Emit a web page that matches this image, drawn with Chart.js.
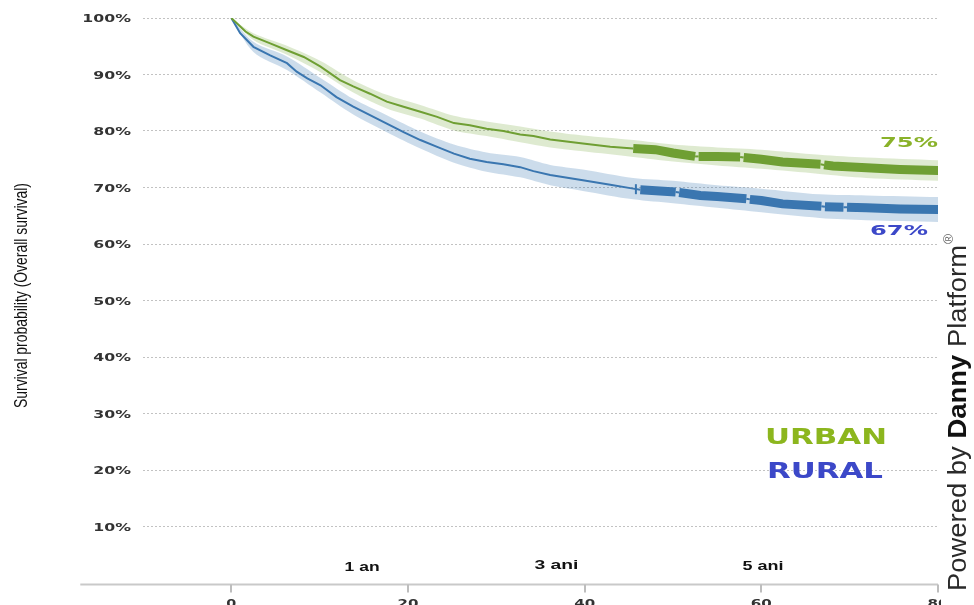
<!DOCTYPE html>
<html>
<head>
<meta charset="utf-8">
<script src="https://cdn.jsdelivr.net/npm/chart.js@4/dist/chart.umd.min.js"></script>
<style>
  html, body { margin: 0; padding: 0; background: #fff; overflow: hidden; }
  canvas { display: block; }
</style>
</head>
<body>
<canvas id="km" width="974" height="620"></canvas>
<script>
// Kaplan–Meier overall survival (%) by residence, months since diagnosis
const urbanMonths   = [0, 1.6, 2.5, 4.4, 6.3, 8.2, 10.1, 11.2, 12.3, 13.8, 15.7, 17.6, 19.5, 21.4, 23.3, 25.2, 27.0, 28.9, 30.8, 32.7, 34.2, 36.1, 39.8, 42.9, 45.5, 48.0, 50.0, 52.5, 52.9, 55.0, 57.6, 58.0, 60.0, 62.4, 66.7, 67.1, 68.1, 71.9, 75.7, 80.2];
const urbanSurvival = [100, 97.6, 96.7, 95.5, 94.3, 93.1, 91.4, 90.2, 89.0, 87.9, 86.6, 85.2, 84.3, 83.4, 82.5, 81.4, 81.0, 80.4, 80.0, 79.4, 79.1, 78.5, 77.8, 77.2, 76.9, 76.7, 76.1, 75.5, 75.5, 75.5, 75.4, 75.3, 75.0, 74.5, 74.1, 74.0, 73.8, 73.5, 73.2, 73.0];

const ruralMonths   = [0, 1.0, 2.5, 4.4, 6.3, 7.4, 8.6, 10.1, 11.9, 13.8, 15.7, 17.6, 19.5, 21.4, 23.3, 25.2, 27.0, 28.9, 30.8, 32.7, 34.2, 36.1, 39.8, 42.9, 45.5, 46.3, 48.5, 50.3, 50.7, 53.1, 55.0, 58.3, 58.7, 60.0, 62.4, 66.8, 67.2, 69.3, 69.7, 71.9, 75.7, 80.2];
const ruralSurvival = [100, 97.3, 94.9, 93.4, 92.0, 90.5, 89.3, 88.1, 86.0, 84.3, 82.8, 81.3, 79.8, 78.4, 77.2, 76.0, 75.1, 74.5, 74.1, 73.6, 72.9, 72.2, 71.3, 70.5, 69.8, 69.6, 69.4, 69.2, 69.1, 68.6, 68.4, 68.0, 67.9, 67.7, 67.1, 66.7, 66.6, 66.5, 66.5, 66.4, 66.2, 66.1];

// 95% confidence bands
const urbanBandMonths = [0, 2.5, 6.3, 10.1, 13.8, 17.6, 21.4, 25.2, 28.9, 32.7, 36.1, 39.8, 45.5, 50.0, 55.0, 60.0, 66.6, 71.9, 80.2];
const urbanUpper      = [100, 97.3, 95.1, 92.4, 89.0, 86.4, 84.6, 82.7, 81.7, 80.8, 79.9, 79.2, 78.4, 77.6, 77.1, 76.7, 75.8, 75.3, 74.8];
const urbanLower      = [100, 96.1, 93.5, 90.4, 86.8, 84.0, 82.2, 80.1, 79.1, 78.0, 77.1, 76.4, 75.4, 74.6, 73.9, 73.3, 72.4, 71.7, 71.2];

const ruralBandMonths = [0, 2.5, 6.3, 10.1, 13.8, 17.6, 21.4, 25.2, 28.9, 32.7, 36.1, 39.8, 45.5, 50.0, 55.0, 60.0, 66.6, 71.9, 80.2];
const ruralUpper      = [100, 95.8, 93.2, 89.4, 85.7, 82.8, 79.9, 77.6, 76.2, 75.4, 74.0, 73.2, 71.7, 71.2, 70.4, 69.8, 68.8, 68.6, 68.3];
const ruralLower      = [100, 94.0, 90.8, 86.8, 82.9, 79.8, 76.9, 74.4, 72.8, 71.8, 70.4, 69.4, 67.9, 67.2, 66.4, 65.6, 64.6, 64.2, 63.9];

// Censoring: dense censor marks from these months on, except in the listed intervals
const urbanCensorFrom = 45.5;
const urbanCensorGaps = [[52.5, 52.9], [57.6, 58.0], [66.7, 67.1]];
const ruralCensorFrom = 46.3;
const ruralCensorGaps = [[50.3, 50.7], [58.3, 58.7], [66.8, 67.2], [69.3, 69.7]];
const ruralTickMonths   = [45.8];
const ruralTickSurvival = [69.7];

// Labels
const seriesNames     = ['URBAN', 'RURAL'];
const fiveYearLabels  = ['75%', '67%'];
const milestoneLabels = ['1 an', '3 ani', '5 ani'];
const milestoneMonths = [14.8, 36.8, 60.2];
const xTickValues     = [0, 20, 40, 60, 80];
const yTitle          = 'Survival probability (Overall survival)';

const GREEN = '#6f9f33';
const BLUE  = '#3a76b0';

const pts = (xs, ys) => xs.map((x, i) => ({ x, y: ys[i] }));

function censorWidth(from, gaps) {
  return ctx => {
    const a = ctx.p0.parsed.x, b = ctx.p1.parsed.x;
    if (a < from) return 2;
    for (const [g0, g1] of gaps) if (a >= g0 - 1e-9 && b <= g1 + 1e-9) return 2;
    return 9;
  };
}

function textStretched(ctx, text, x, baseline, font, color, targetW, align) {
  ctx.save();
  ctx.font = font;
  const w = ctx.measureText(text).width;
  ctx.translate(x, baseline);
  ctx.scale(targetW / w, 1);
  ctx.fillStyle = color;
  ctx.textAlign = align || 'center';
  ctx.textBaseline = 'alphabetic';
  ctx.fillText(text, 0, 0);
  ctx.restore();
}

const decorations = {
  id: 'decorations',
  afterDraw(chart) {
    const ctx = chart.ctx;
    const xs = chart.scales.x, ys = chart.scales.y;
    const y0 = ys.getPixelForValue(0) + 1.5;

    // x axis baseline, extended to the left of the plot
    ctx.save();
    ctx.strokeStyle = '#c9c9c9';
    ctx.lineWidth = 2;
    ctx.beginPath();
    ctx.moveTo(xs.getPixelForValue(-17.1), y0);
    ctx.lineTo(xs.getPixelForValue(80), y0);
    ctx.stroke();
    ctx.strokeStyle = '#bdbdbd';
    xTickValues.forEach(v => {
      const px = Math.round(xs.getPixelForValue(v));
      ctx.beginPath();
      ctx.moveTo(px, y0);
      ctx.lineTo(px, y0 + 8);
      ctx.stroke();
    });
    ctx.restore();

    // x tick labels
    xTickValues.forEach(v => {
      textStretched(ctx, String(v), xs.getPixelForValue(v), y0 + 22,
        'bold 11px "DejaVu Sans"', '#333', String(v).length === 1 ? 10 : 21, 'center');
    });

    // y tick labels
    ys.ticks.forEach(t => {
      if (t.value <= 0) return;
      const py = ys.getPixelForValue(t.value);
      ctx.save();
      ctx.font = 'bold 10.5px "DejaVu Sans"';
      ctx.translate(chart.chartArea.left - 12, py + 4);
      ctx.scale(1.5, 1);
      ctx.fillStyle = '#333';
      ctx.textAlign = 'right';
      ctx.fillText(t.value + '%', 0, 0);
      ctx.restore();
    });

    // y axis title
    ctx.save();
    ctx.font = '14px "Liberation Sans Narrow", "Liberation Sans", Arial';
    const tw = ctx.measureText(yTitle).width;
    ctx.translate(27, (chart.chartArea.top + chart.chartArea.bottom) / 2 - 5);
    ctx.rotate(-Math.PI / 2);
    ctx.scale(225 / tw, 1.3);
    ctx.fillStyle = '#111';
    ctx.textAlign = 'center';
    ctx.textBaseline = 'alphabetic';
    ctx.fillText(yTitle, 0, 0);
    ctx.restore();

    // milestone labels
    const mW = [35, 44, 41];
    const mB = [571, 569, 570];
    milestoneLabels.forEach((s, i) => {
      textStretched(ctx, s, xs.getPixelForValue(milestoneMonths[i]), mB[i],
        'bold 13px "Liberation Sans", Arial', '#111', mW[i], 'center');
    });

    // series names
    textStretched(ctx, seriesNames[0], 826, 444, 'bold 22px "DejaVu Sans"', '#8cb61e', 122, 'center');
    textStretched(ctx, seriesNames[1], 825, 478, 'bold 22px "DejaVu Sans"', '#3c48c8', 116, 'center');

    // five-year survival labels
    textStretched(ctx, fiveYearLabels[0], 909, 147, 'bold 14px "DejaVu Sans"', '#8ab22a', 58, 'center');
    textStretched(ctx, fiveYearLabels[1], 899, 235, 'bold 14px "DejaVu Sans"', '#3c48c8', 58, 'center');

    // platform credit
    ctx.save();
    ctx.fillStyle = '#fff';
    ctx.fillRect(941, 0, 33, 605);
    ctx.translate(966, 591);
    ctx.rotate(-Math.PI / 2);
    ctx.textBaseline = 'alphabetic';
    ctx.textAlign = 'left';
    const parts = [
      ['Powered by ', '26px "Liberation Sans", Arial', '#2a2a2a'],
      ['Danny', 'bold 26px "Liberation Sans", Arial', '#111'],
      [' Platform', '26px "Liberation Sans", Arial', '#2a2a2a']
    ];
    let total = 0;
    parts.forEach(([s, f]) => { ctx.font = f; total += ctx.measureText(s).width; });
    ctx.scale(346 / total, 1);
    let off = 0;
    parts.forEach(([s, f, c]) => {
      ctx.font = f; ctx.fillStyle = c;
      ctx.fillText(s, off, 0);
      off += ctx.measureText(s).width;
    });
    ctx.font = '13px "Liberation Sans", Arial';
    ctx.fillStyle = '#666';
    ctx.fillText('\u00AE', off + 1, -13);
    ctx.restore();
  }
};

new Chart(document.getElementById('km'), {
  type: 'line',
  data: {
    datasets: [
      {
        label: seriesNames[0],
        data: pts(urbanMonths, urbanSurvival),
        borderColor: GREEN, borderWidth: 2, pointRadius: 0, tension: 0,
        borderCapStyle: 'butt', fill: false, order: 0,
        segment: { borderWidth: censorWidth(urbanCensorFrom, urbanCensorGaps) }
      },
      {
        label: seriesNames[1],
        data: pts(ruralMonths, ruralSurvival),
        borderColor: BLUE, borderWidth: 2, pointRadius: 0, tension: 0,
        borderCapStyle: 'butt', fill: false, order: 0,
        segment: { borderWidth: censorWidth(ruralCensorFrom, ruralCensorGaps) }
      },
      {
        label: 'censored',
        data: pts(ruralTickMonths, ruralTickSurvival),
        showLine: false, pointStyle: 'line', rotation: 90, pointRadius: 5,
        borderColor: BLUE, pointBorderWidth: 2, order: 0
      },
      {
        label: 'urban upper',
        data: pts(urbanBandMonths, urbanUpper),
        borderWidth: 0, pointRadius: 0, tension: 0.3,
        backgroundColor: 'rgba(118,168,60,0.24)', fill: '+1', order: 2
      },
      {
        label: 'urban lower',
        data: pts(urbanBandMonths, urbanLower),
        borderWidth: 0, pointRadius: 0, tension: 0.3, fill: false, order: 2
      },
      {
        label: 'rural upper',
        data: pts(ruralBandMonths, ruralUpper),
        borderWidth: 0, pointRadius: 0, tension: 0.3,
        backgroundColor: 'rgba(58,118,176,0.26)', fill: '+1', order: 3
      },
      {
        label: 'rural lower',
        data: pts(ruralBandMonths, ruralLower),
        borderWidth: 0, pointRadius: 0, tension: 0.3, fill: false, order: 3
      }
    ]
  },
  options: {
    responsive: false,
    animation: false,
    events: [],
    layout: { padding: { left: 143, top: 18, right: 36, bottom: 620 - 583 } },
    plugins: { legend: { display: false }, tooltip: { enabled: false } },
    scales: {
      x: {
        type: 'linear', min: -10, max: 80,
        grid: { display: false },
        border: { display: false },
        ticks: { display: false },
        afterFit: s => { s.height = 0; }
      },
      y: {
        min: 0, max: 100,
        ticks: { display: false, stepSize: 10 },
        border: { display: false, dash: [2, 2] },
        grid: {
          drawTicks: false,
          color: c => (c.tick && c.tick.value === 0) ? 'rgba(0,0,0,0)' : '#c2c2c2',
          lineWidth: 1
        },
        afterFit: s => { s.width = 0; }
      }
    }
  },
  plugins: [decorations]
});
</script>
</body>
</html>
